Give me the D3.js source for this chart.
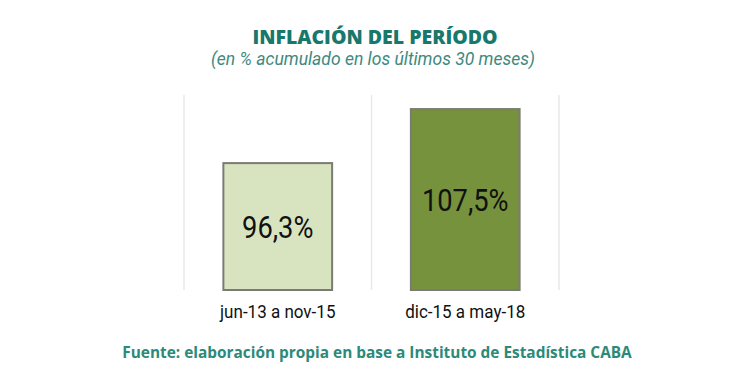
<!DOCTYPE html>
<html lang="es">
<head>
<meta charset="UTF-8">
<script src="https://d3js.org/d3.v7.min.js"></script>
<style>
  body { margin: 0; background: #fff; }
  svg { display: block; }
</style>
</head>
<body>
<div id="chart"></div>
<script>
  // Data
  const periods = ["jun-13 a nov-15", "dic-15 a may-18"];
  const inflation = [96.3, 107.5];
  const barColors = ["#d8e4bf", "#77923c"];
  const valueLabels = ["96,3%", "107,5%"];

  const width = 750, height = 376;

  const svg = d3.select("#chart").append("svg")
    .attr("width", width)
    .attr("height", height);

  svg.append("rect").attr("width", width).attr("height", height).attr("fill", "#fff");

  // Scales
  const x = d3.scaleBand()
    .domain(periods)
    .range([184, 559])
    .paddingInner(0.42)
    .paddingOuter(0.21);

  const y = d3.scaleLinear()
    .domain([70, 110])
    .range([290, 97]);

  const step = x.step();

  // Vertical separators
  const seps = periods.map(p => x(p) - step * 0.21).concat([x(periods[1]) + x.bandwidth() + step * 0.21]);
  svg.append("g").selectAll("line")
    .data(seps)
    .join("line")
    .attr("x1", d => d).attr("x2", d => d)
    .attr("y1", y(110) - 2).attr("y2", y(70))
    .attr("stroke", "#e8e8e8")
    .attr("stroke-width", 1.5);

  // Bars
  svg.append("g").selectAll("rect")
    .data(periods)
    .join("rect")
    .attr("x", d => x(d))
    .attr("y", (d, i) => y(inflation[i]))
    .attr("width", x.bandwidth())
    .attr("height", (d, i) => y(70) - y(inflation[i]))
    .attr("fill", (d, i) => barColors[i])
    .attr("stroke", "#7b7b75")
    .attr("stroke-width", 2);

  const cx = d => x(d) + x.bandwidth() / 2;

  // Value labels
  svg.append("g").selectAll("text")
    .data(periods)
    .join("text")
    .attr("x", cx)
    .attr("y", (d, i) => (y(inflation[i]) + y(70)) / 2 + 11)
    .attr("text-anchor", "middle")
    .attr("font-family", "Roboto")
    .attr("font-size", 31)
    .attr("fill", "#111")
    .attr("transform", d => `translate(${cx(d)},0) scale(0.88,1) translate(${-cx(d)},0)`)
    .text((d, i) => valueLabels[i]);

  // Category labels
  svg.append("g").selectAll("text")
    .data(periods)
    .join("text")
    .attr("x", cx)
    .attr("y", 318)
    .attr("text-anchor", "middle")
    .attr("font-family", "Roboto")
    .attr("font-size", 18.5)
    .attr("fill", "#111")
    .attr("transform", d => `translate(${cx(d)},0) scale(0.92,1) translate(${-cx(d)},0)`)
    .text(d => d);

  // Title
  svg.append("text")
    .attr("x", width / 2)
    .attr("y", 44)
    .attr("text-anchor", "middle")
    .attr("font-family", "Open Sans")
    .attr("font-weight", 800)
    .attr("font-size", 19.5)
    .attr("fill", "#17786b")
    .text("INFLACIÓN DEL PERÍODO");

  svg.append("text")
    .attr("x", width / 2 - 2)
    .attr("y", 65)
    .attr("text-anchor", "middle")
    .attr("font-family", "Roboto")
    .attr("font-style", "italic")
    .attr("font-size", 17.5)
    .attr("fill", "#3d8a80")
    .text("(en % acumulado en los últimos 30 meses)");

  // Source
  svg.append("text")
    .attr("x", width / 2 + 2)
    .attr("y", 358)
    .attr("text-anchor", "middle")
    .attr("font-family", "Open Sans")
    .attr("font-weight", 700)
    .attr("font-size", 15.4)
    .attr("fill", "#2b8a79")
    .text("Fuente: elaboración propia en base a Instituto de Estadística CABA");
</script>
</body>
</html>
